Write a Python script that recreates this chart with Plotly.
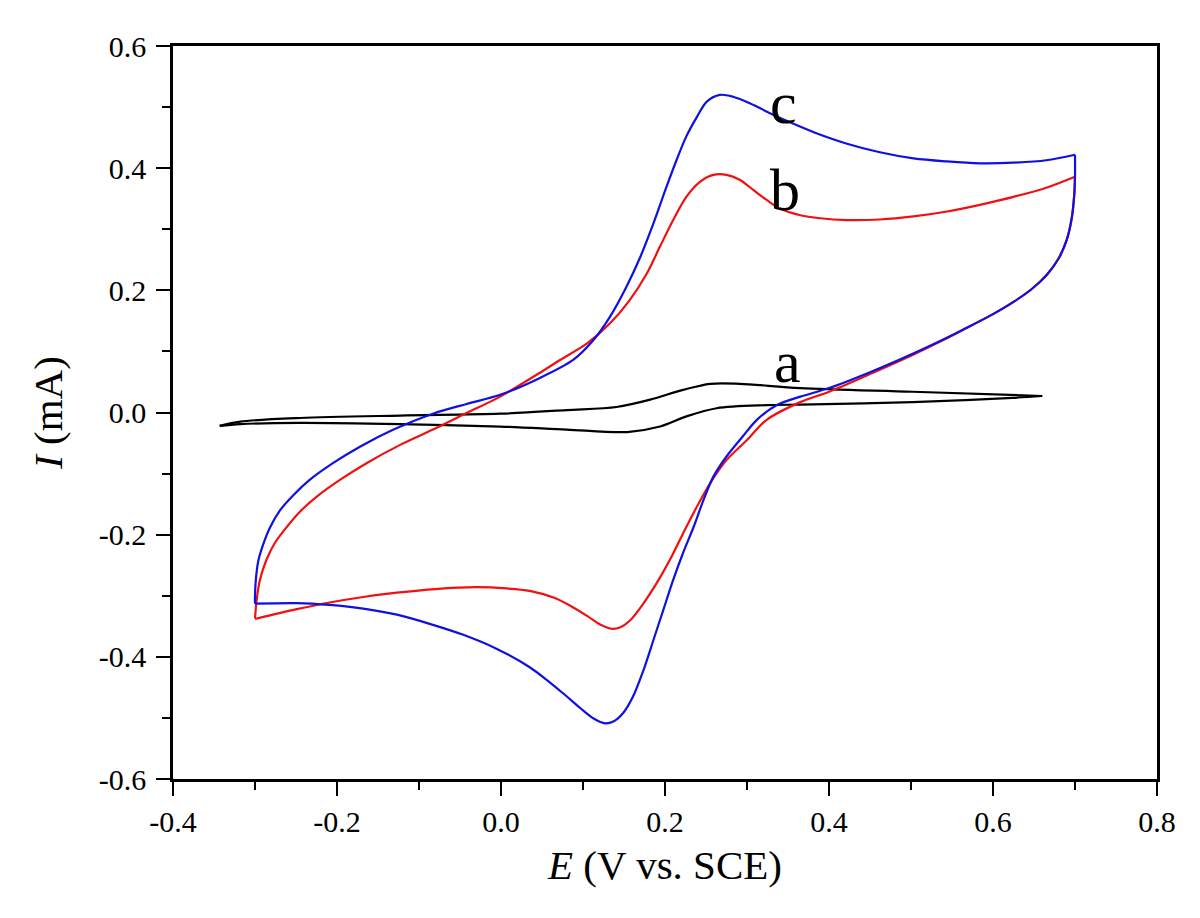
import plotly.graph_objects as go

# ---- Data (E in V vs. SCE, I in mA) ----
# curve c (blue): anodic (forward) and cathodic (reverse) sweeps
c_fwd_E = [-0.300, -0.300, -0.299, -0.296, -0.290, -0.282, -0.270, -0.253, -0.233, -0.205, -0.172,
           -0.131, -0.083, -0.042, -0.001, 0.045, 0.088, 0.113, 0.133, 0.153, 0.170, 0.186, 0.202,
           0.214, 0.226, 0.239, 0.251, 0.267, 0.283, 0.304, 0.328, 0.356, 0.383, 0.422, 0.462,
           0.503, 0.544, 0.584, 0.625, 0.665, 0.700]
c_fwd_I = [-0.313, -0.300, -0.274, -0.243, -0.216, -0.189, -0.161, -0.135, -0.110, -0.083, -0.056,
           -0.028, -0.002, 0.014, 0.029, 0.055, 0.086, 0.119, 0.157, 0.206, 0.255, 0.310, 0.370,
           0.413, 0.452, 0.484, 0.509, 0.520, 0.517, 0.506, 0.490, 0.473, 0.458, 0.440, 0.426,
           0.416, 0.411, 0.408, 0.409, 0.413, 0.422]
c_rev_E = [0.700, 0.700, 0.699, 0.696, 0.690, 0.680, 0.666, 0.648, 0.625, 0.600, 0.570, 0.540,
           0.500, 0.450, 0.400, 0.365, 0.336, 0.312, 0.295, 0.275, 0.259, 0.247, 0.235, 0.222,
           0.210, 0.198, 0.186, 0.174, 0.161, 0.149, 0.137, 0.127, 0.113, 0.096, 0.076, 0.056,
           0.035, -0.005, -0.046, -0.087, -0.127, -0.168, -0.209, -0.249, -0.300]
c_rev_I = [0.422, 0.386, 0.355, 0.318, 0.283, 0.252, 0.226, 0.203, 0.181, 0.161, 0.140, 0.120,
           0.095, 0.066, 0.040, 0.026, 0.012, -0.012, -0.039, -0.072, -0.105, -0.143, -0.187, -0.230,
           -0.274, -0.323, -0.372, -0.421, -0.465, -0.492, -0.506, -0.509, -0.501, -0.483, -0.460, -0.438,
           -0.417, -0.387, -0.364, -0.346, -0.331, -0.321, -0.315, -0.312, -0.313]

# curve b (red)
b_fwd_E = [-0.300, -0.298, -0.294, -0.286, -0.276, -0.261, -0.245, -0.225, -0.196, -0.164, -0.123,
           -0.083, -0.042, -0.001, 0.051, 0.072, 0.105, 0.133, 0.157, 0.178, 0.194, 0.210, 0.226,
           0.243, 0.259, 0.275, 0.291, 0.308, 0.324, 0.340, 0.365, 0.389, 0.422, 0.462, 0.503,
           0.544, 0.584, 0.625, 0.665, 0.700]
b_fwd_I = [-0.337, -0.307, -0.274, -0.241, -0.214, -0.187, -0.162, -0.138, -0.110, -0.083, -0.053,
           -0.028, -0.001, 0.026, 0.068, 0.086, 0.113, 0.146, 0.184, 0.228, 0.272, 0.315, 0.353,
           0.378, 0.389, 0.389, 0.381, 0.364, 0.348, 0.334, 0.323, 0.318, 0.315, 0.316, 0.321,
           0.329, 0.340, 0.353, 0.368, 0.386]
b_rev_E = [0.700, 0.699, 0.696, 0.690, 0.680, 0.666, 0.648, 0.625, 0.600, 0.570, 0.540, 0.500,
           0.450, 0.400, 0.365, 0.324, 0.300, 0.275, 0.255, 0.239, 0.222, 0.206, 0.190, 0.174,
           0.157, 0.145, 0.135, 0.121, 0.105, 0.084, 0.064, 0.035, 0.007, -0.030, -0.080, -0.127,
           -0.168, -0.209, -0.249, -0.300]
b_rev_I = [0.386, 0.355, 0.318, 0.283, 0.252, 0.226, 0.203, 0.181, 0.161, 0.140, 0.119, 0.093,
           0.063, 0.034, 0.017, -0.012, -0.045, -0.078, -0.116, -0.154, -0.198, -0.241, -0.279, -0.312,
           -0.341, -0.352, -0.354, -0.347, -0.333, -0.316, -0.303, -0.292, -0.288, -0.286, -0.289, -0.295,
           -0.302, -0.311, -0.322, -0.338]

# curve a (black)
a_fwd_E = [-0.343, -0.318, -0.245, -0.123, -0.001, 0.080, 0.141, 0.182, 0.222, 0.255, 0.291,
           0.365, 0.502, 0.660]
a_fwd_I = [-0.022, -0.015, -0.009, -0.005, -0.002, 0.004, 0.009, 0.021, 0.037, 0.047, 0.047,
           0.040, 0.034, 0.027]
a_rev_E = [0.660, 0.624, 0.502, 0.365, 0.324, 0.263, 0.227, 0.194, 0.154, 0.080, -0.001, -0.123,
           -0.245, -0.318, -0.343]
a_rev_I = [0.027, 0.024, 0.017, 0.013, 0.012, 0.007, -0.006, -0.023, -0.032, -0.028, -0.023, -0.019,
           -0.017, -0.019, -0.022]

labels = ["a", "b", "c"]
label_E = [0.349, 0.346, 0.345]
label_I = [0.083, 0.364, 0.507]

x_ticks = [-0.4, -0.2, 0.0, 0.2, 0.4, 0.6, 0.8]
x_ticktext = ["-0.4", "-0.2", "0.0", "0.2", "0.4", "0.6", "0.8"]
y_ticks = [-0.6, -0.4, -0.2, 0.0, 0.2, 0.4, 0.6]
y_ticktext = ["-0.6", "-0.4", "-0.2", "0.0", "0.2", "0.4", "0.6"]

FONT = "Liberation Serif, Times New Roman, serif"

fig = go.Figure()
series = [
    (a_fwd_E, a_fwd_I, "#000000"), (a_rev_E, a_rev_I, "#000000"),
    (b_fwd_E, b_fwd_I, "#f01010"), (b_rev_E, b_rev_I, "#f01010"),
    (c_fwd_E, c_fwd_I, "#1010e0"), (c_rev_E, c_rev_I, "#1010e0"),
]
for xs, ys, col in series:
    fig.add_trace(go.Scatter(x=xs, y=ys, mode="lines",
                             line=dict(color=col, width=2.2, shape="spline", smoothing=0.9),
                             showlegend=False, hoverinfo="skip"))

for t, xe, yi in zip(labels, label_E, label_I):
    fig.add_annotation(x=xe, y=yi, xref="x", yref="y", text=t, showarrow=False,
                       font=dict(family=FONT, size=60, color="black"))

axis_common = dict(showline=True, linecolor="black", linewidth=2.5, mirror=True,
                   ticks="outside", ticklen=14, tickwidth=2, tickcolor="black",
                   showgrid=False, zeroline=False,
                   tickfont=dict(family=FONT, size=30, color="black"),
                   minor=dict(ticks="outside", ticklen=8, tickwidth=2, tickcolor="black", showgrid=False))

fig.update_xaxes(range=[-0.4, 0.8], tickvals=x_ticks, ticktext=x_ticktext,
                 minor_dtick=0.1, minor_tick0=-0.4,
                 title=dict(text="<i>E</i> (V vs. SCE)", font=dict(family=FONT, size=41, color="black"),
                            standoff=14),
                 **axis_common)
fig.update_yaxes(range=[-0.6, 0.6], tickvals=y_ticks, ticktext=y_ticktext,
                 minor_dtick=0.1, minor_tick0=-0.6, ticklabelstandoff=4,
                 title=dict(text="<i>I</i> (mA)", font=dict(family=FONT, size=41, color="black"),
                            standoff=24),
                 **axis_common)

fig.update_layout(width=1184, height=902,
                  margin=dict(l=165, r=35, t=38, b=131),
                  font=dict(family=FONT),
                  plot_bgcolor="white", paper_bgcolor="white")

fig.write_html("out.html")
